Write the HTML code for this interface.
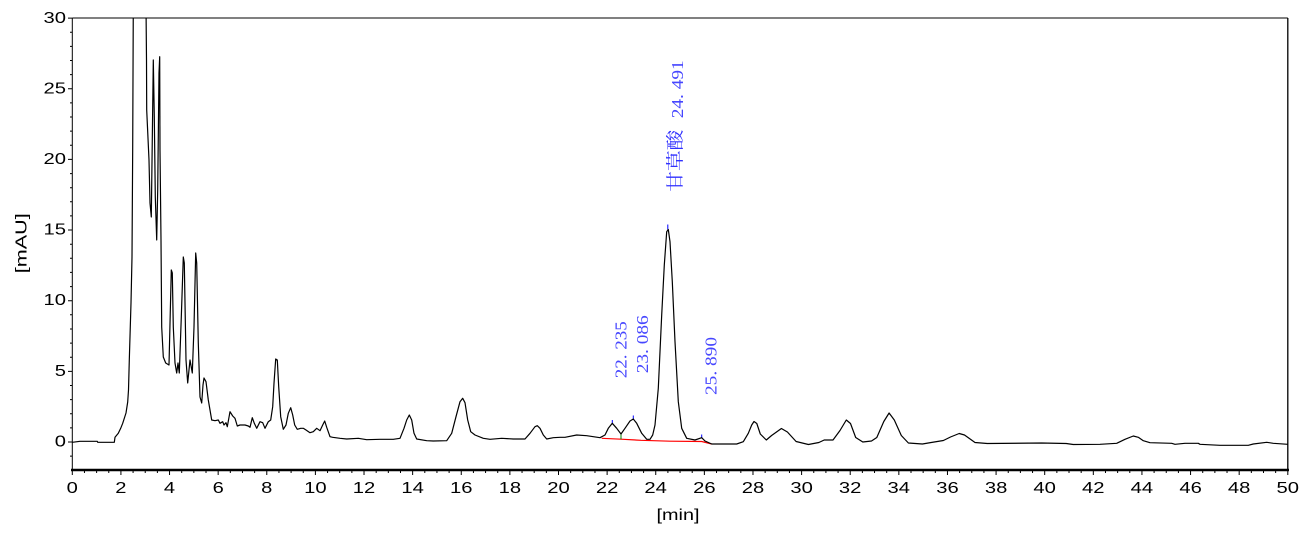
<!DOCTYPE html>
<html>
<head>
<meta charset="utf-8">
<style>
html,body{margin:0;padding:0;background:#fff;}
svg{display:block;}
.tl{font-family:"Liberation Sans",Arial,sans-serif;font-size:15.5px;fill:#000;}
.an{font-family:"Liberation Serif","Noto Serif CJK SC",serif;font-size:17px;fill:#4646ff;}
.cj{font-family:"Noto Serif CJK SC","Noto Sans CJK SC",serif;font-size:18px;fill:#3030ff;}
</style>
</head>
<body>
<svg width="1313" height="533" viewBox="0 0 1313 533" xmlns="http://www.w3.org/2000/svg">
<defs>
<clipPath id="pc"><rect x="72" y="18" width="1216" height="452"/></clipPath>
</defs>
<rect x="0" y="0" width="1313" height="533" fill="#fff"/>

<!-- frame -->
<line x1="72.3" y1="18" x2="1287.8" y2="18" stroke="#000" stroke-width="1"/>
<line x1="72.3" y1="18" x2="72.3" y2="470" stroke="#000" stroke-width="1"/>
<line x1="1287.8" y1="18" x2="1287.8" y2="470" stroke="#000" stroke-width="1.3"/>
<line x1="71" y1="470" x2="1289" y2="470" stroke="#000" stroke-width="2.5"/>

<!-- x ticks -->
<path stroke="#000" stroke-width="1" fill="none" d="
M72.3 470V475 M84.46 470V473 M96.61 470V473 M108.77 470V473 M120.92 470V475 M133.08 470V473 M145.23 470V473 M157.39 470V473
M169.54 470V475 M181.70 470V473 M193.85 470V473 M206.01 470V473 M218.16 470V475 M230.32 470V473 M242.47 470V473 M254.63 470V473
M266.78 470V475 M278.94 470V473 M291.09 470V473 M303.25 470V473 M315.40 470V475 M327.56 470V473 M339.71 470V473 M351.87 470V473
M364.02 470V475 M376.18 470V473 M388.33 470V473 M400.49 470V473 M412.64 470V475 M424.80 470V473 M436.95 470V473 M449.11 470V473
M461.26 470V475 M473.42 470V473 M485.57 470V473 M497.73 470V473 M509.88 470V475 M522.04 470V473 M534.19 470V473 M546.35 470V473
M558.50 470V475 M570.66 470V473 M582.81 470V473 M594.97 470V473 M607.12 470V475 M619.28 470V473 M631.43 470V473 M643.59 470V473
M655.74 470V475 M667.90 470V473 M680.05 470V473 M692.21 470V473 M704.36 470V475 M716.52 470V473 M728.67 470V473 M740.83 470V473
M752.98 470V475 M765.14 470V473 M777.29 470V473 M789.45 470V473 M801.60 470V475 M813.76 470V473 M825.91 470V473 M838.07 470V473
M850.22 470V475 M862.38 470V473 M874.53 470V473 M886.69 470V473 M898.84 470V475 M911.00 470V473 M923.15 470V473 M935.31 470V473
M947.46 470V475 M959.62 470V473 M971.77 470V473 M983.93 470V473 M996.08 470V475 M1008.24 470V473 M1020.39 470V473 M1032.55 470V473
M1044.70 470V475 M1056.86 470V473 M1069.01 470V473 M1081.17 470V473 M1093.32 470V475 M1105.48 470V473 M1117.63 470V473 M1129.79 470V473
M1141.94 470V475 M1154.10 470V473 M1166.25 470V473 M1178.41 470V473 M1190.56 470V475 M1202.72 470V473 M1214.87 470V473 M1227.03 470V473
M1239.18 470V475 M1251.34 470V473 M1263.49 470V473 M1275.65 470V473 M1287.8 470V475"/>

<!-- y ticks -->
<path stroke="#000" stroke-width="1" fill="none" d="
M68 18.1H72.3 M70 32.2H72.3 M70 46.4H72.3 M70 60.5H72.3 M70 74.6H72.3
M68 88.75H72.3 M70 102.9H72.3 M70 117H72.3 M70 131.1H72.3 M70 145.3H72.3
M68 159.4H72.3 M70 173.6H72.3 M70 187.7H72.3 M70 201.8H72.3 M70 215.9H72.3
M68 230.05H72.3 M70 244.2H72.3 M70 258.3H72.3 M70 272.4H72.3 M70 286.6H72.3
M68 300.7H72.3 M70 314.8H72.3 M70 328.96H72.3 M70 343.1H72.3 M70 357.2H72.3
M68 371.35H72.3 M70 385.5H72.3 M70 399.6H72.3 M70 413.7H72.3 M70 427.9H72.3
M68 442H72.3 M70 456.1H72.3"/>

<!-- y labels -->
<g class="tl" text-anchor="end">
<text x="66" y="22.8" textLength="22.5" lengthAdjust="spacingAndGlyphs">30</text>
<text x="66" y="93.3" textLength="22.5" lengthAdjust="spacingAndGlyphs">25</text>
<text x="66" y="164" textLength="22.5" lengthAdjust="spacingAndGlyphs">20</text>
<text x="66" y="234.3" textLength="22.5" lengthAdjust="spacingAndGlyphs">15</text>
<text x="66" y="305.2" textLength="22.5" lengthAdjust="spacingAndGlyphs">10</text>
<text x="66" y="375.8" textLength="11.2" lengthAdjust="spacingAndGlyphs">5</text>
<text x="66" y="446.5" textLength="11.2" lengthAdjust="spacingAndGlyphs">0</text>
</g>

<!-- x labels -->
<g class="tl" text-anchor="middle">
<text x="72.3" y="493" textLength="11.2" lengthAdjust="spacingAndGlyphs">0</text>
<text x="120.9" y="493" textLength="11.2" lengthAdjust="spacingAndGlyphs">2</text>
<text x="169.5" y="493" textLength="11.2" lengthAdjust="spacingAndGlyphs">4</text>
<text x="218.2" y="493" textLength="11.2" lengthAdjust="spacingAndGlyphs">6</text>
<text x="266.8" y="493" textLength="11.2" lengthAdjust="spacingAndGlyphs">8</text>
<text x="315.4" y="493" textLength="22.5" lengthAdjust="spacingAndGlyphs">10</text>
<text x="364.0" y="493" textLength="22.5" lengthAdjust="spacingAndGlyphs">12</text>
<text x="412.6" y="493" textLength="22.5" lengthAdjust="spacingAndGlyphs">14</text>
<text x="461.3" y="493" textLength="22.5" lengthAdjust="spacingAndGlyphs">16</text>
<text x="509.9" y="493" textLength="22.5" lengthAdjust="spacingAndGlyphs">18</text>
<text x="558.5" y="493" textLength="22.5" lengthAdjust="spacingAndGlyphs">20</text>
<text x="607.1" y="493" textLength="22.5" lengthAdjust="spacingAndGlyphs">22</text>
<text x="655.7" y="493" textLength="22.5" lengthAdjust="spacingAndGlyphs">24</text>
<text x="704.4" y="493" textLength="22.5" lengthAdjust="spacingAndGlyphs">26</text>
<text x="753.0" y="493" textLength="22.5" lengthAdjust="spacingAndGlyphs">28</text>
<text x="801.6" y="493" textLength="22.5" lengthAdjust="spacingAndGlyphs">30</text>
<text x="850.2" y="493" textLength="22.5" lengthAdjust="spacingAndGlyphs">32</text>
<text x="898.8" y="493" textLength="22.5" lengthAdjust="spacingAndGlyphs">34</text>
<text x="947.5" y="493" textLength="22.5" lengthAdjust="spacingAndGlyphs">36</text>
<text x="996.1" y="493" textLength="22.5" lengthAdjust="spacingAndGlyphs">38</text>
<text x="1044.7" y="493" textLength="22.5" lengthAdjust="spacingAndGlyphs">40</text>
<text x="1093.3" y="493" textLength="22.5" lengthAdjust="spacingAndGlyphs">42</text>
<text x="1141.9" y="493" textLength="22.5" lengthAdjust="spacingAndGlyphs">44</text>
<text x="1190.6" y="493" textLength="22.5" lengthAdjust="spacingAndGlyphs">46</text>
<text x="1239.2" y="493" textLength="22.5" lengthAdjust="spacingAndGlyphs">48</text>
<text x="1287.8" y="493" textLength="22.5" lengthAdjust="spacingAndGlyphs">50</text>
</g>

<!-- axis titles -->
<text class="tl" x="678" y="520" text-anchor="middle" textLength="43" lengthAdjust="spacingAndGlyphs">[min]</text>
<text class="tl" transform="translate(26.5,273.3) rotate(-90)" textLength="60" lengthAdjust="spacingAndGlyphs">[mAU]</text>

<!-- baseline (red) and markers -->
<polyline fill="none" stroke="#ff0000" stroke-width="1.2" points="601.7,438.3 621,439.2 641,440.3 670,441.2 701.7,441.5 711.7,444"/>
<line x1="621" y1="434" x2="621" y2="439.3" stroke="#008000" stroke-width="1"/>
<g stroke="#0000ff" stroke-width="1">
<line x1="612.3" y1="420" x2="612.3" y2="424"/>
<line x1="633.3" y1="415.5" x2="633.3" y2="419.5"/>
<line x1="667.8" y1="224.5" x2="667.8" y2="229.5"/>
<line x1="701.7" y1="434.5" x2="701.7" y2="438"/>
</g>

<!-- trace -->
<g clip-path="url(#pc)">
<polyline fill="none" stroke="#000" stroke-width="1.2" stroke-linejoin="round" points="
72.3,442.3 80,441.3 97.3,441.3 97.7,442.3 114.3,442.3 115,437.3 118.3,433.3 120.7,428.3 122.7,423.3 126,413 127.7,402 128.5,390 129.3,360 131,303 132,257 132.7,146.7 133.3,5
146,5 146.5,60 146.7,110 149,160 150,203 151.3,217 153.3,60 154.3,117 155.3,197 156.7,240 157.7,190 159,73 159.7,56.7 160,150 161,240 161.7,327 163.3,357 165.7,363 169,365 171.3,270 172.3,273 173.3,327 175,363 176.7,373 178,363 179.3,373 181.3,317 183.3,257 184.3,263 186,360 187.7,383 190,360 192.3,373 194,327 195.7,253 196.7,263 198.3,343 200,397 201.7,403 203,385 204,378 206,381.7 208.3,400 211.7,420 215,420.7 218.3,420 220,423.3 222.7,421.7 224,425 226,422.7 227.3,426.7 230,411.7 232.7,416 235,418.3 237.3,426 240,425 245,425 248.3,426 250,427.3 252.3,417.7 254.3,423.3 256.7,428.3 260,421.7 262.7,422.7 265,428.3 268.3,421.7 270.7,420 272.7,406.7 274,383.3 275.7,359 277.3,360 278.7,386.7 280.7,416.7 283.3,429.3 286,425 288.3,413.3 290.7,407.7 292.7,415 294.7,425 297.3,429.3 300.7,428.3 303.3,428.3 306,430 310,432.7 313.3,431.7 316.7,428.3 320,430.7 322.7,425 324.7,421 326.7,427.3 330,436.7 332.7,437.3 340,438.3 346.7,439 358.3,438.3 366.7,439.7 380,439.3 393.3,439.3 400,438.3 404,428.3 406.7,420 409.3,415 411.7,420 414,433.3 416.7,439 426.7,440.7 433.3,441 446.7,440.7 451.7,433.3 456,416.7 460,401.7 462.7,398.3 465,402.7 467.7,420 470.7,431.7 475,435 483.3,438.3 490,439.3 501.7,438.3 513.3,439 525,439 530,433.3 535,426.7 537.3,425.7 540,428.3 543.3,435 546.7,439 553.3,437.7 560,437.3 565,437.3 576.7,435 586.7,435.7 600,437.7 605,435 608.3,428.3 612.3,423.3 616.7,428.3 621,434 625,428.3 630,421 633.3,419 636.7,423.3 641.7,433.3 646.7,439.3 650,439.3 652.7,435 655,425 658.3,388.3 661.7,315 664.3,265 666.7,231.7 668.3,229.5 670,241.7 672.3,281.7 675,341.7 678.3,401.7 681.7,428.3 686.7,438.3 695,440 701.7,437.7 705,441 711.7,444 721.7,444 736.7,444 743.3,441.7 748.3,433.3 751.7,425 754,421.5 756.8,423.5 760.3,434 766.3,440 771.6,435.5 781.4,428.5 787.4,432 796.1,441.5 808.4,444.5 818.9,442.5 824.2,440 833,440 840,430.5 846.3,420 850.5,423.5 855.7,437.5 862.8,442 871.5,441 876.8,437.5 883.8,421.5 889.1,413 894.3,420 901.3,435.5 908.4,443 922.4,444 931.2,442.5 943.4,440.5 950.5,437 959.2,433.5 964.5,435 975,442.5 987.3,443.5 1041.6,443 1066.2,443.5 1073.2,444.5 1100,444.3 1116.7,443.3 1125,439.3 1133.3,436 1138.3,437.3 1143.3,440.7 1150,442.7 1171.7,443.3 1175,444.3 1185,443.3 1198.3,443.3 1200,444.3 1220,445.3 1248.3,445.3 1253.3,444 1266.7,442.3 1273.3,443.3 1287.8,444.3"/>
</g>

<!-- peak annotations -->
<text class="an" transform="translate(626.5,378.3) rotate(-90)" textLength="57" lengthAdjust="spacingAndGlyphs">22. 235</text>
<text class="an" transform="translate(648,373.3) rotate(-90)" textLength="58" lengthAdjust="spacingAndGlyphs">23. 086</text>
<text class="an" transform="translate(716.5,395) rotate(-90)" textLength="58" lengthAdjust="spacingAndGlyphs">25. 890</text>
<text class="cj" transform="translate(681.5,191.7) rotate(-90)" textLength="62" lengthAdjust="spacingAndGlyphs">甘草酸</text>
<text class="an" transform="translate(683,118.3) rotate(-90)" textLength="58" lengthAdjust="spacingAndGlyphs">24. 491</text>
</svg>
</body>
</html>
